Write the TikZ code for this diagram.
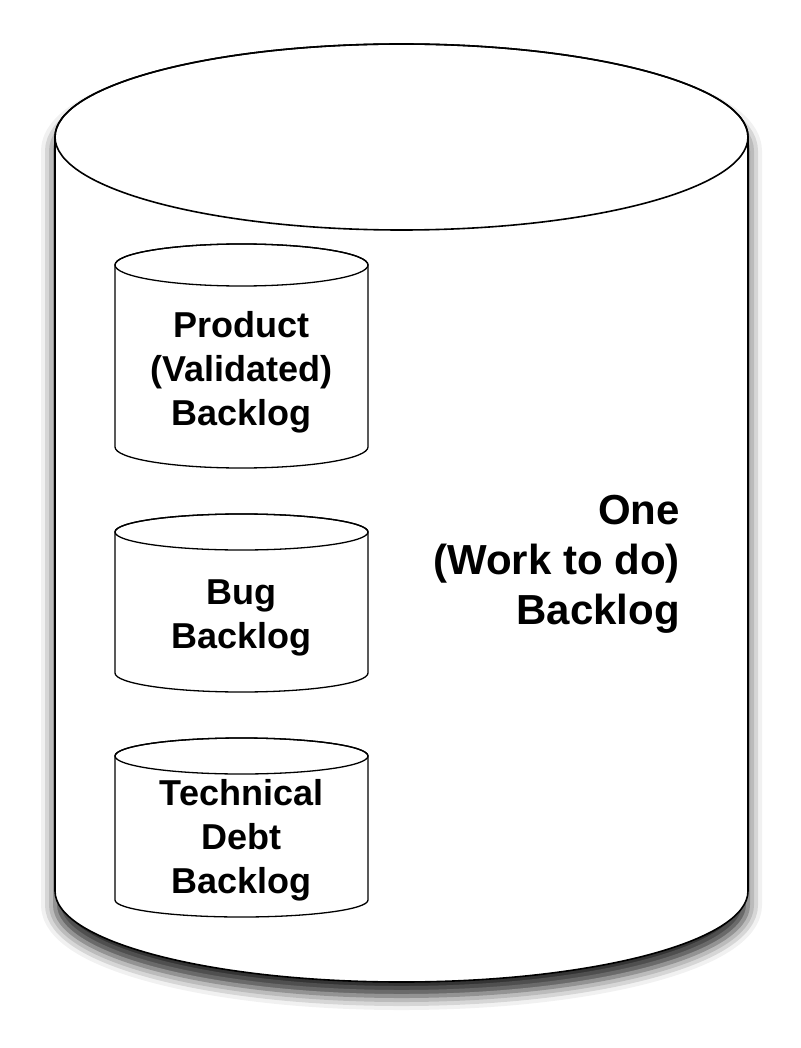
\documentclass[tikz,border=0pt]{standalone}
\usepackage{fontspec}
\setmainfont{Liberation Sans}
\usetikzlibrary{shadows.blur}
\tikzset{
  bigline/.style={line width=1.6pt, draw=black},
  smallline/.style={line width=1.3pt, draw=black},
  smalltxt/.style={font=\bfseries\fontsize{36}{44}\selectfont, align=center, inner sep=0pt},
  bigtxt/.style={font=\bfseries\fontsize{42}{50}\selectfont, align=right, inner sep=0pt, anchor=east},
}
\newcommand{\smallcyl}[5]{%
  % #1 cx, #2 top cy, #3 top ry, #4 bottom cy, #5 bottom ry
  \filldraw[smallline, fill=white] (#1-126.5,-#2) -- (#1-126.5,-#4)
     arc[start angle=180, end angle=360, x radius=126.5, y radius=#5]
     -- (#1+126.5,-#2)
     arc[start angle=0, end angle=180, x radius=126.5, y radius=#3] -- cycle;
  \draw[smallline] (#1,-#2) ellipse[x radius=126.5, y radius=#3];
}
\begin{document}
\begin{tikzpicture}[x=1pt,y=1pt]
\useasboundingbox (0,0) rectangle (800,-1048);
% big cylinder body
\filldraw[bigline, fill=white, blur shadow={shadow xshift=0pt, shadow yshift=-14pt, shadow blur radius=14pt, shadow opacity=85}]
  (55,-137) -- (55,-891)
  arc[start angle=180, end angle=360, x radius=346.5, y radius=91]
  -- (748,-137)
  arc[start angle=0, end angle=180, x radius=346.5, y radius=93] -- cycle;
\draw[bigline] (401.5,-137) ellipse[x radius=346.5, y radius=93];
% small cylinders
\smallcyl{241.5}{265}{21}{447}{21}
\smallcyl{241.5}{532}{18}{673}{19}
\smallcyl{241.5}{756}{18}{900}{17}
\node[smalltxt] (prod) at (241.5,-372) {Product\\(Validated)\\Backlog};
\node[smalltxt] (bug) at (241.5,-618) {Bug\\Backlog};
\node[smalltxt] (tech) at (241.5,-840) {Technical\\Debt\\Backlog};
\node[bigtxt] (one) at (680,-564) {One\\(Work to do)\\Backlog};
\end{tikzpicture}
\end{document}
